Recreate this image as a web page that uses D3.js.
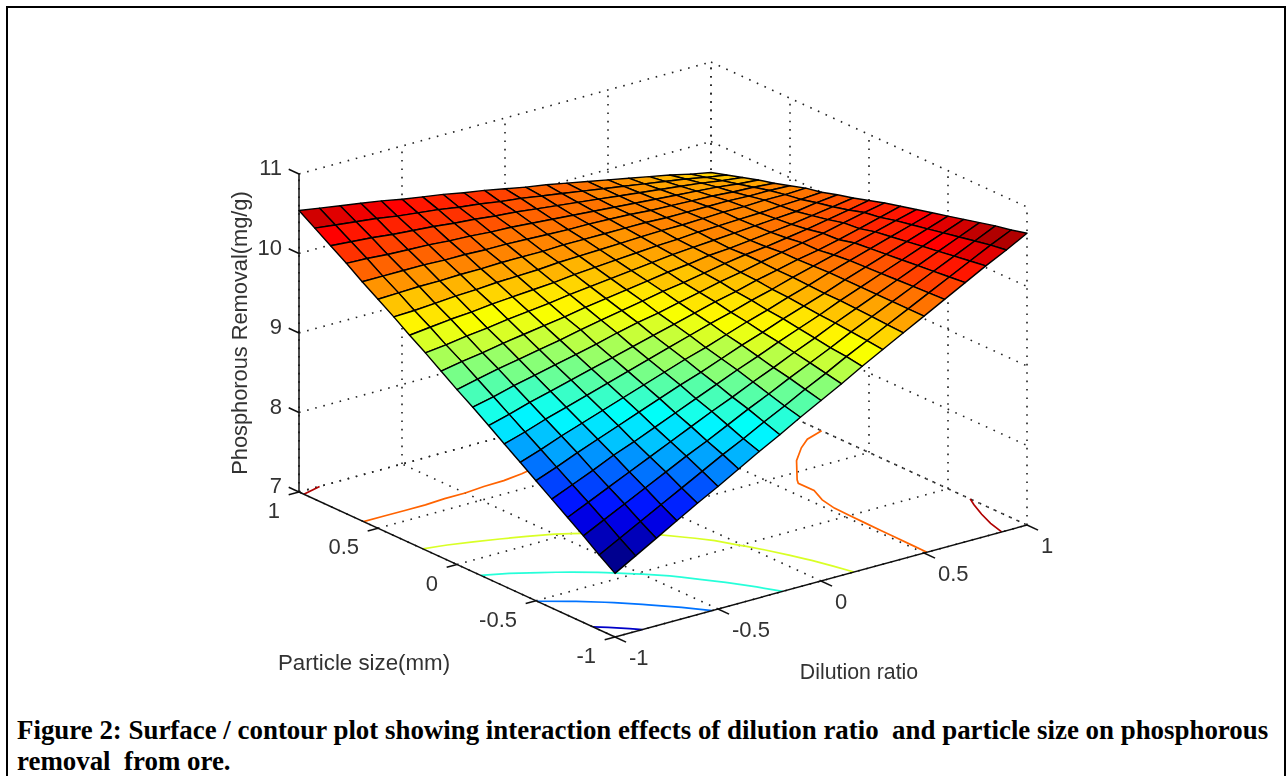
<!DOCTYPE html>
<html>
<head>
<meta charset="utf-8">
<script src="https://d3js.org/d3.v7.min.js"></script>
<style>
body { margin: 0; background: #fff; }
svg { display: block; }
.tick { font: 22px "Liberation Sans", Arial, sans-serif; fill: #333; }
.title { font: 21.3px "Liberation Sans", Arial, sans-serif; fill: #333; }
.caption { font: bold 26.9px "Liberation Serif", "Times New Roman", serif; fill: #000; white-space: pre; }
</style>
</head>
<body>
<svg width="1286" height="776">
    <defs>
        <filter id="soft" filterUnits="userSpaceOnUse" x="0" y="0" width="1286" height="776">
            <feGaussianBlur stdDeviation="0.45"></feGaussianBlur>
        </filter>
    </defs>
</svg>
<script>
const xTicks = [-1, -0.5, 0, 0.5, 1];
const yTicks = [-1, -0.5, 0, 0.5, 1];
const zTicks = [7, 8, 9, 10, 11];
const levels = [8, 8.5, 9, 9.5, 10, 10.5];
const xTitle = 'Dilution ratio';
const yTitle = 'Particle size(mm)';
const zTitle = 'Phosphorous Removal(mg/g)';
const captionLines = [
    'Figure 2: Surface / contour plot showing interaction effects of dilution ratio  and particle size on phosphorous',
    'removal  from ore.'
];

// phosphorous removal, one row per particle size step (-1 to 1),
// one column per dilution ratio step (-1 to 1)
const removal = [
    [7.80, 7.95, 8.10, 8.25, 8.40, 8.54, 8.69, 8.84, 8.98, 9.13, 9.27, 9.41, 9.56, 9.70, 9.84, 9.98, 10.12, 10.26, 10.40, 10.53, 10.67],
    [7.94, 8.08, 8.22, 8.36, 8.50, 8.64, 8.78, 8.91, 9.05, 9.18, 9.32, 9.45, 9.59, 9.72, 9.85, 9.98, 10.11, 10.24, 10.37, 10.50, 10.62],
    [8.09, 8.22, 8.35, 8.48, 8.61, 8.74, 8.86, 8.99, 9.12, 9.24, 9.37, 9.49, 9.61, 9.74, 9.86, 9.98, 10.10, 10.22, 10.34, 10.46, 10.58],
    [8.23, 8.35, 8.47, 8.59, 8.71, 8.83, 8.95, 9.07, 9.18, 9.30, 9.41, 9.53, 9.64, 9.76, 9.87, 9.98, 10.09, 10.20, 10.31, 10.42, 10.53],
    [8.37, 8.48, 8.59, 8.71, 8.81, 8.92, 9.03, 9.14, 9.25, 9.36, 9.46, 9.57, 9.67, 9.77, 9.88, 9.98, 10.08, 10.18, 10.28, 10.38, 10.48],
    [8.51, 8.61, 8.72, 8.82, 8.92, 9.02, 9.12, 9.22, 9.31, 9.41, 9.51, 9.60, 9.70, 9.79, 9.88, 9.98, 10.07, 10.16, 10.25, 10.34, 10.43],
    [8.65, 8.74, 8.84, 8.93, 9.02, 9.11, 9.20, 9.29, 9.38, 9.46, 9.55, 9.64, 9.72, 9.81, 9.89, 9.98, 10.06, 10.14, 10.22, 10.30, 10.38],
    [8.79, 8.87, 8.96, 9.04, 9.12, 9.20, 9.28, 9.36, 9.44, 9.52, 9.60, 9.67, 9.75, 9.82, 9.90, 9.97, 10.04, 10.12, 10.19, 10.26, 10.33],
    [8.93, 9.00, 9.08, 9.15, 9.22, 9.29, 9.36, 9.43, 9.50, 9.57, 9.64, 9.71, 9.77, 9.84, 9.90, 9.96, 10.01, 10.07, 10.14, 10.21, 10.28],
    [9.07, 9.13, 9.20, 9.26, 9.32, 9.38, 9.44, 9.51, 9.57, 9.62, 9.68, 9.74, 9.80, 9.85, 9.91, 9.96, 10.01, 10.06, 10.12, 10.18, 10.23],
    [9.20, 9.26, 9.32, 9.37, 9.42, 9.47, 9.53, 9.58, 9.63, 9.68, 9.73, 9.77, 9.82, 9.87, 9.91, 9.94, 9.98, 10.02, 10.07, 10.12, 10.17],
    [9.34, 9.39, 9.43, 9.48, 9.52, 9.56, 9.60, 9.65, 9.69, 9.73, 9.77, 9.81, 9.84, 9.88, 9.90, 9.93, 9.96, 9.99, 10.03, 10.07, 10.11],
    [9.48, 9.51, 9.55, 9.58, 9.62, 9.65, 9.68, 9.72, 9.75, 9.78, 9.81, 9.84, 9.87, 9.89, 9.91, 9.93, 9.95, 9.97, 9.99, 10.03, 10.06],
    [9.61, 9.64, 9.67, 9.69, 9.72, 9.74, 9.76, 9.78, 9.81, 9.83, 9.85, 9.87, 9.89, 9.90, 9.92, 9.93, 9.94, 9.95, 9.97, 9.98, 10.00],
    [9.75, 9.76, 9.78, 9.80, 9.81, 9.83, 9.84, 9.85, 9.87, 9.88, 9.89, 9.90, 9.91, 9.92, 9.92, 9.93, 9.94, 9.94, 9.95, 9.95, 9.96],
    [9.88, 9.89, 9.90, 9.90, 9.91, 9.91, 9.92, 9.92, 9.92, 9.93, 9.93, 9.93, 9.93, 9.93, 9.92, 9.92, 9.92, 9.92, 9.91, 9.91, 9.90],
    [10.01, 10.01, 10.01, 10.01, 10.00, 10.00, 9.99, 9.99, 9.98, 9.97, 9.96, 9.96, 9.95, 9.94, 9.92, 9.91, 9.90, 9.89, 9.87, 9.86, 9.84],
    [10.15, 10.14, 10.12, 10.11, 10.10, 10.08, 10.07, 10.05, 10.04, 10.02, 10.00, 9.98, 9.96, 9.94, 9.92, 9.90, 9.88, 9.86, 9.84, 9.81, 9.79],
    [10.28, 10.26, 10.24, 10.21, 10.19, 10.17, 10.14, 10.12, 10.09, 10.07, 10.04, 10.01, 9.98, 9.95, 9.92, 9.89, 9.86, 9.83, 9.80, 9.76, 9.73],
    [10.41, 10.38, 10.35, 10.32, 10.28, 10.25, 10.22, 10.18, 10.15, 10.11, 10.08, 10.04, 10.00, 9.96, 9.92, 9.88, 9.84, 9.80, 9.76, 9.71, 9.67],
    [10.54, 10.50, 10.46, 10.42, 10.38, 10.33, 10.29, 10.25, 10.20, 10.16, 10.11, 10.06, 10.02, 9.97, 9.92, 9.87, 9.82, 9.77, 9.72, 9.66, 9.61]
];

const svg = d3.select('svg');
const n = removal.length;

// each data axis moves the page point along its own direction
const origin = [615, 637];
const xToPx = d3.scaleLinear().domain([-1, 1]).range([0, 412]);
const xToPy = d3.scaleLinear().domain([-1, 1]).range([0, -112]);
const yToPx = d3.scaleLinear().domain([-1, 1]).range([0, -316]);
const yToPy = d3.scaleLinear().domain([-1, 1]).range([0, -145]);
const zToPy = d3.scaleLinear().domain([7, 11]).range([0, -318]);
const gridToData = d3.scaleLinear().domain([0, n - 1]).range([-1, 1]);

const project = (x, y, z) => [
    origin[0] + xToPx(x) + yToPx(y),
    origin[1] + xToPy(x) + yToPy(y) + zToPy(z)
];
const path = d3.line();

// jet colormap, 64 steps like the original figure
const zMin = d3.min(removal, (r) => d3.min(r));
const zMax = d3.max(removal, (r) => d3.max(r));
const jet = d3.scaleLinear()
    .domain([0, 0.125, 0.375, 0.625, 0.875, 1])
    .range(['#00008f', '#0000ff', '#00ffff', '#ffff00', '#ff0000', '#800000']);
const colorOf = (z) => {
    const t = (z - zMin) / (zMax - zMin);
    return jet(Math.min(63, Math.floor(t * 64)) / 63);
};

// outer frame
svg.append('path')
    .attr('d', 'M7,776V7H1285V776')
    .attr('fill', 'none')
    .attr('stroke', '#000')
    .attr('stroke-width', 2);

const plot = svg.append('g').attr('filter', 'url(#soft)');

// dotted grid on the two back walls and the floor
const gridLines = [];
xTicks.forEach((x) => {
    gridLines.push([project(x, 1, 7), project(x, 1, 11)]);
    gridLines.push([project(x, -1, 7), project(x, 1, 7)]);
});
yTicks.forEach((y) => {
    gridLines.push([project(1, y, 7), project(1, y, 11)]);
    gridLines.push([project(-1, y, 7), project(1, y, 7)]);
});
zTicks.forEach((z) => {
    gridLines.push([project(-1, 1, z), project(1, 1, z)]);
    gridLines.push([project(1, 1, z), project(1, -1, z)]);
});
plot.selectAll('.grid')
    .data(gridLines)
    .enter()
    .append('path')
    .attr('class', 'grid')
    .attr('d', path)
    .attr('fill', 'none')
    .attr('stroke', '#222')
    .attr('stroke-width', 1.6)
    .attr('stroke-dasharray', '1.6 6.8');

// contour lines on the floor, taken from the same matrix
const flat = removal.flat();
const contourSegments = [];
d3.contours().size([n, n]).thresholds(levels)(flat).forEach((c) => {
    c.coordinates.forEach((poly) => poly.forEach((ring) => {
        const inside = (p) => p[0] > 0 && p[0] < n && p[1] > 0 && p[1] < n;
        const start = ring.findIndex((p) => !inside(p));
        const pts = start < 0 ? ring : ring.slice(start).concat(ring.slice(0, start));
        let seg = [];
        pts.forEach((p) => {
            if (inside(p)) {
                seg.push(project(gridToData(p[0] - 0.5), gridToData(p[1] - 0.5), 7));
            } else {
                if (seg.length > 1) contourSegments.push({ level: c.value, pts: seg });
                seg = [];
            }
        });
        if (seg.length > 1) contourSegments.push({ level: c.value, pts: seg });
    }));
});
plot.selectAll('.contour')
    .data(contourSegments)
    .enter()
    .append('path')
    .attr('class', 'contour')
    .attr('d', (d) => path(d.pts))
    .attr('fill', 'none')
    .attr('stroke', (d) => colorOf(d.level))
    .attr('stroke-width', 1.7);

// axes
const axisLines = [
    [project(-1, 1, 7), project(-1, 1, 11)],
    [project(-1, -1, 7), project(1, -1, 7)],
    [project(-1, -1, 7), project(-1, 1, 7)]
];
zTicks.forEach((z) => axisLines.push([project(-1, 1, z), project(-1, 1.065, z)]));
xTicks.forEach((x) => axisLines.push([project(x, -1, 7), project(x, -1.07, 7)]));
yTicks.forEach((y) => axisLines.push([project(-1, y, 7), project(-1.05, y, 7)]));
plot.selectAll('.axis')
    .data(axisLines)
    .enter()
    .append('path')
    .attr('class', 'axis')
    .attr('d', path)
    .attr('fill', 'none')
    .attr('stroke', '#111')
    .attr('stroke-width', 1.5);

// surface, back cells first
const cells = [];
for (let j = n - 2; j >= 0; j--) {
    for (let i = n - 2; i >= 0; i--) {
        cells.push({ i, j });
    }
}
const node = (i, j) => project(gridToData(i), gridToData(j), removal[j][i]);
plot.selectAll('.cell')
    .data(cells)
    .enter()
    .append('path')
    .attr('class', 'cell')
    .attr('d', (c) => path([node(c.i, c.j), node(c.i + 1, c.j), node(c.i + 1, c.j + 1), node(c.i, c.j + 1)]) + 'Z')
    .attr('fill', (c) => colorOf(removal[c.j][c.i]))
    .attr('stroke', '#000')
    .attr('stroke-width', 1.4)
    .attr('stroke-linejoin', 'round');

const labels = svg.append('g').attr('filter', 'url(#soft)');

// tick labels
zTicks.forEach((z) => {
    const p = project(-1, 1, z);
    labels.append('text').attr('class', 'tick')
        .attr('x', 282).attr('y', p[1] + 1)
        .attr('text-anchor', 'end')
        .text(z);
});
xTicks.forEach((x) => {
    const p = project(x, -1, 7);
    labels.append('text').attr('class', 'tick')
        .attr('x', p[0] + 14).attr('y', p[1] + 28)
        .text(x);
});
yTicks.forEach((y) => {
    const p = project(-1, y, 7);
    labels.append('text').attr('class', 'tick')
        .attr('x', p[0] - 19).attr('y', p[1] + 26)
        .attr('text-anchor', 'end')
        .text(y);
});

// axis titles
labels.append('text').attr('class', 'title')
    .attr('x', 859).attr('y', 679)
    .attr('text-anchor', 'middle')
    .text(xTitle);
labels.append('text').attr('class', 'title')
    .attr('x', 364).attr('y', 670)
    .attr('text-anchor', 'middle')
    .style('font-size', '22.3px')
    .text(yTitle);
labels.append('text').attr('class', 'title')
    .attr('transform', 'translate(247, 333) rotate(-90)')
    .attr('text-anchor', 'middle')
    .style('font-size', '21.8px')
    .text(zTitle);

// figure caption
svg.append('text').attr('class', 'caption')
    .attr('x', 17).attr('y', 739)
    .text(captionLines[0]);
svg.append('text').attr('class', 'caption')
    .attr('x', 17).attr('y', 770)
    .text(captionLines[1]);
</script>
</body>
</html>
